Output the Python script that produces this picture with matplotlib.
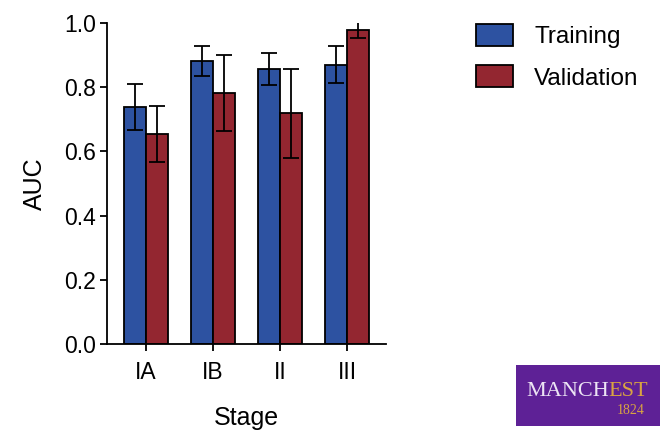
import matplotlib
matplotlib.use("Agg")
import matplotlib.pyplot as plt
import numpy as np
from matplotlib.patches import Rectangle

plt.rcParams['font.family'] = ['Liberation Sans', 'DejaVu Sans']

stages = ["IA", "IB", "II", "III"]
training = [0.737, 0.881, 0.856, 0.870]
training_err = [0.071, 0.048, 0.050, 0.057]
validation = [0.654, 0.781, 0.718, 0.977]
validation_err = [0.088, 0.119, 0.138, 0.025]
yticks = [0.0, 0.2, 0.4, 0.6, 0.8, 1.0]

blue = "#2d52a1"
red = "#932630"

fig = plt.figure(figsize=(6.6, 4.3), dpi=100)
ax = fig.add_axes([0.162, 0.2, 0.423, 0.747])

x = np.arange(len(stages))
w = 0.33
err_kw = dict(elinewidth=1.3, capsize=6, capthick=1.3, ecolor="black")
ax.bar(x - w / 2, training, w, yerr=training_err, color=blue, edgecolor="black",
       linewidth=1.3, error_kw=err_kw, label="Training")
ax.bar(x + w / 2, validation, w, yerr=validation_err, color=red, edgecolor="black",
       linewidth=1.3, error_kw=err_kw, label="Validation")

ax.set_xlim(-0.58, 3.58)
ax.set_ylim(0, 1.0)
ax.set_xticks(x)
ax.set_xticklabels(stages)
ax.set_yticks(yticks)
ax.set_yticklabels([f"{v:.1f}" for v in yticks])
ax.tick_params(labelsize=16.5, width=1.3, length=5, direction="out")
ax.tick_params(axis="x", pad=7)
ax.tick_params(axis="y", pad=3)
for s in ["top", "right"]:
    ax.spines[s].set_visible(False)
for s in ["left", "bottom"]:
    ax.spines[s].set_linewidth(1.3)
ax.set_ylabel("AUC", fontsize=18, labelpad=12)
ax.set_xlabel("Stage", fontsize=18, labelpad=16)

leg = ax.legend(loc="upper left", bbox_to_anchor=(1.243, 1.065), frameon=False,
                fontsize=17.5, handlelength=1.55, handleheight=1.0,
                handletextpad=0.85, labelspacing=0.72)

# purple logo badge in the bottom-right corner
badge = Rectangle((0.782, 0.01), 0.25, 0.142, transform=fig.transFigure,
                  facecolor="#5e2196", edgecolor="none")
fig.patches.append(badge)
t1 = fig.text(0.797, 0.09, "MANCH", transform=fig.transFigure, fontsize=16,
              family="Liberation Serif", color="#ece4f4", va="center", ha="left")
fig.canvas.draw()
bb = t1.get_window_extent().transformed(fig.transFigure.inverted())
fig.text(bb.x1, 0.09, "EST", transform=fig.transFigure, fontsize=16,
         family="Liberation Serif", color="#d9a441", va="center", ha="left")
fig.text(bb.x1 + 0.012, 0.045, "1824", transform=fig.transFigure, fontsize=10,
         family="Liberation Serif", color="#d9a441", va="center", ha="left")

fig.savefig("out.png", dpi=100)
